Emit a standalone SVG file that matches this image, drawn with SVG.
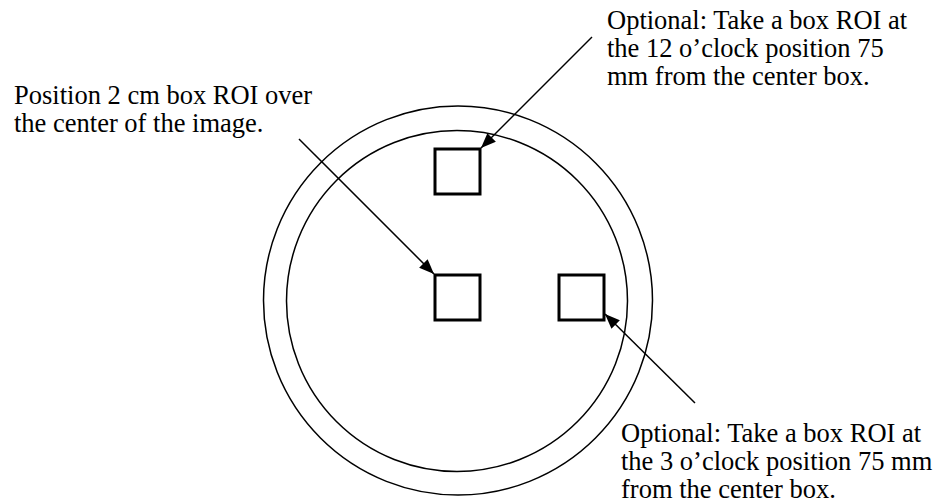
<svg xmlns="http://www.w3.org/2000/svg" width="951" height="503" viewBox="0 0 951 503">
<style>
.t{font-family:"Liberation Serif","Times New Roman",serif;font-size:26.5px;fill:#000}
.c{fill:none;stroke:#000;stroke-width:1.5}
.b{fill:#fff;stroke:#000;stroke-width:3}
.a{fill:none;stroke:#000;stroke-width:1.5;marker-end:url(#ah)}
</style>
<defs>
<marker id="ah" markerWidth="15" markerHeight="12" refX="15" refY="6" orient="auto" markerUnits="userSpaceOnUse" viewBox="0 0 15 12">
<path d="M0,0 L15,6 L0,12 z" fill="#000"/>
</marker>
</defs>
<rect width="951" height="503" fill="#fff"/>
<g id="phantom">
<circle class="c" cx="458" cy="300.5" r="194.5"/>
<circle class="c" cx="457" cy="301" r="170.5"/>
</g>
<g id="box-top"><rect class="b" x="435" y="149" width="45" height="45"/></g>
<g id="box-center"><rect class="b" x="435" y="275" width="45" height="45"/></g>
<g id="box-right"><rect class="b" x="559" y="275" width="45" height="45"/></g>
<g id="connectors">
<line class="a" x1="592" y1="37" x2="481" y2="148"/>
<line class="a" x1="299" y1="139" x2="434" y2="274"/>
<line class="a" x1="695" y1="403" x2="605" y2="314"/>
</g>
<g id="label-center">
<text class="t" x="14" y="104">Position 2 cm box ROI over</text>
<text class="t" x="14" y="132">the center of the image.</text>
</g>
<g id="label-top">
<text class="t" x="607" y="29">Optional: Take a box ROI at</text>
<text class="t" x="607" y="57">the 12 o’clock position 75</text>
<text class="t" x="607" y="85">mm from the center box.</text>
</g>
<g id="label-right">
<text class="t" x="621" y="442">Optional: Take a box ROI at</text>
<text class="t" x="621" y="470">the 3 o’clock position 75 mm</text>
<text class="t" x="621" y="498">from the center box.</text>
</g>
</svg>
